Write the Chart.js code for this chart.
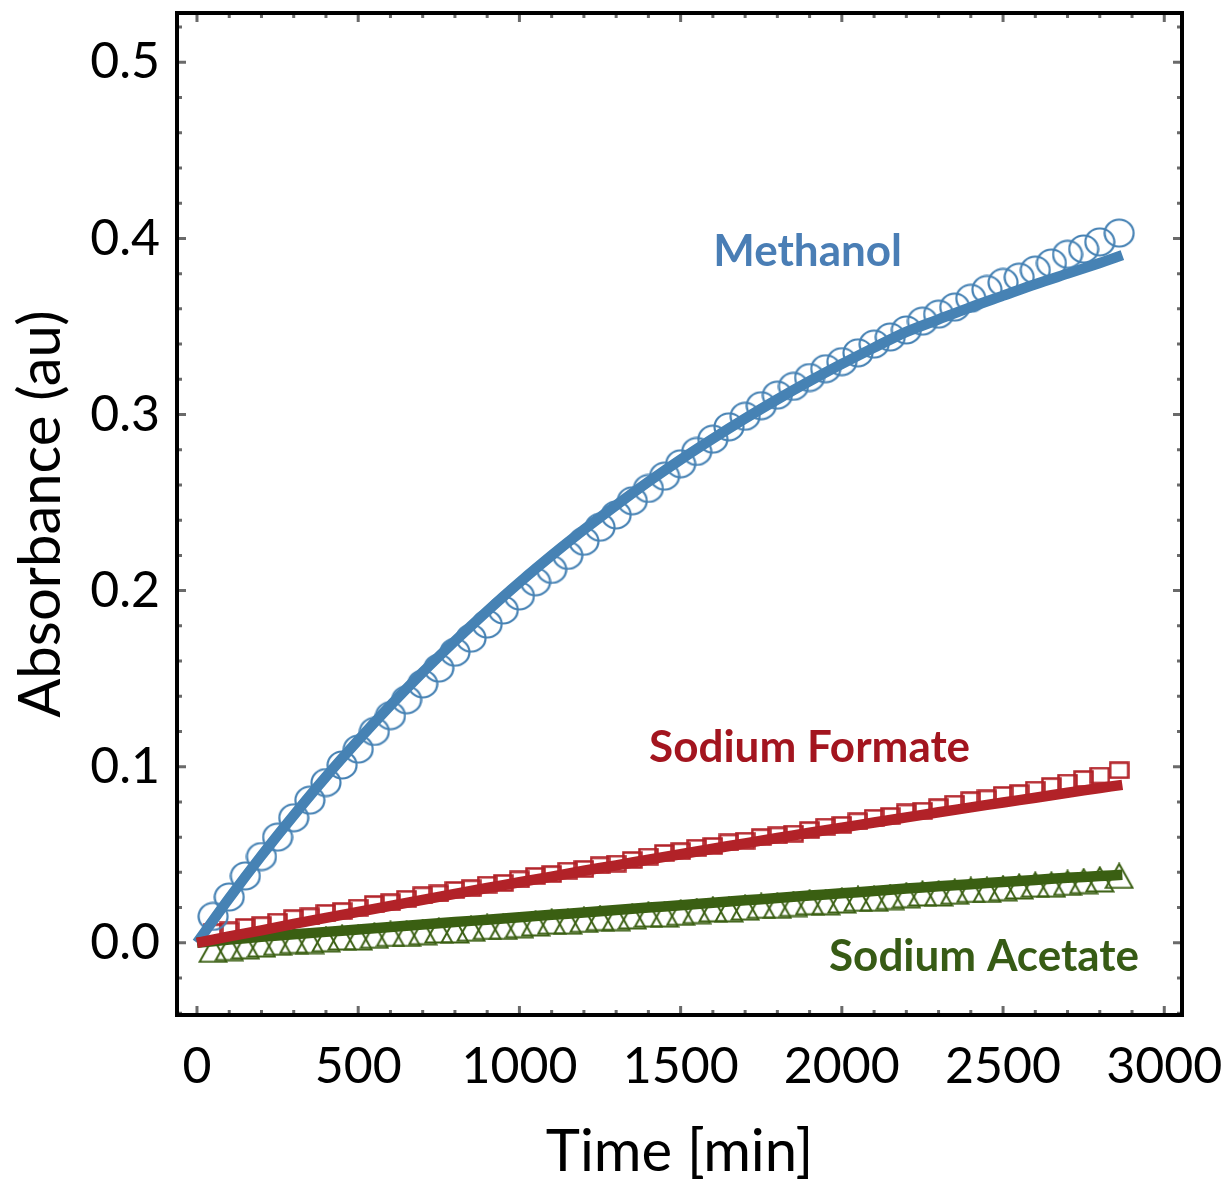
<!DOCTYPE html>
<html>
<head>
<meta charset="utf-8">
<script src="https://cdn.jsdelivr.net/npm/chart.js@4.4.0/dist/chart.umd.min.js"></script>
<style>
  html, body { margin: 0; padding: 0; background: #fff; }
  #wrap { width: 1227px; height: 1185px; }
</style>
</head>
<body>
<div id="wrap"><canvas id="chart"></canvas></div>
<script>
// measured points (min)
const times = [
  50, 100, 150, 200, 250, 300, 350, 400, 450, 500,
  550, 600, 650, 700, 750, 800, 850, 900, 950, 1000,
  1050, 1100, 1150, 1200, 1250, 1300, 1350, 1400, 1450, 1500,
  1550, 1600, 1650, 1700, 1750, 1800, 1850, 1900, 1950, 2000,
  2050, 2100, 2150, 2200, 2250, 2300, 2350, 2400, 2450, 2500,
  2550, 2600, 2650, 2700, 2750, 2800, 2860
];

const methanol = [
  0.015, 0.026, 0.038, 0.049, 0.060, 0.071, 0.081, 0.091, 0.101, 0.110,
  0.120, 0.129, 0.138, 0.147, 0.156, 0.165, 0.173, 0.181, 0.189, 0.197,
  0.205, 0.212, 0.220, 0.228, 0.236, 0.243, 0.251, 0.258, 0.265, 0.272,
  0.279, 0.286, 0.293, 0.299, 0.305, 0.311, 0.316, 0.321, 0.326, 0.330,
  0.335, 0.340, 0.344, 0.348, 0.353, 0.357, 0.361, 0.366, 0.371, 0.375,
  0.378, 0.382, 0.386, 0.391, 0.394, 0.398, 0.403
];

const formate = [
  0.006, 0.007, 0.009, 0.010, 0.012, 0.014, 0.015, 0.017, 0.018, 0.020,
  0.022, 0.023, 0.025, 0.027, 0.028, 0.030, 0.031, 0.033, 0.034, 0.036,
  0.038, 0.039, 0.041, 0.042, 0.044, 0.045, 0.047, 0.049, 0.051, 0.052,
  0.054, 0.055, 0.057, 0.058, 0.060, 0.061, 0.062, 0.064, 0.066, 0.067,
  0.069, 0.071, 0.072, 0.074, 0.075, 0.077, 0.079, 0.081, 0.082, 0.084,
  0.085, 0.087, 0.089, 0.091, 0.093, 0.095, 0.098
];

const acetate = [
  -0.004, -0.003, -0.002, -0.001, 0.000, 0.001, 0.001, 0.002, 0.003, 0.003,
  0.004, 0.005, 0.005, 0.006, 0.007, 0.007, 0.008, 0.009, 0.009, 0.010,
  0.011, 0.012, 0.012, 0.013, 0.014, 0.014, 0.015, 0.016, 0.016, 0.017,
  0.018, 0.019, 0.019, 0.020, 0.021, 0.021, 0.022, 0.023, 0.023, 0.024,
  0.025, 0.025, 0.026, 0.027, 0.028, 0.028, 0.029, 0.030, 0.030, 0.031,
  0.032, 0.033, 0.033, 0.034, 0.035, 0.036, 0.038
];

// fitted curves
const fitTimes = [
  0, 100, 200, 300, 400, 500, 600, 700, 800, 900,
  1000, 1100, 1200, 1300, 1400, 1500, 1600, 1700, 1800, 1900,
  2000, 2100, 2200, 2300, 2400, 2500, 2600, 2700, 2800, 2870
];

const methanolFit = [
  0.0000, 0.0254, 0.0495, 0.0724, 0.0943, 0.1150, 0.1348, 0.1536, 0.1714, 0.1884,
  0.2046, 0.2200, 0.2346, 0.2485, 0.2618, 0.2744, 0.2863, 0.2977, 0.3086, 0.3189,
  0.3287, 0.3380, 0.3469, 0.3540, 0.3610, 0.3675, 0.3740, 0.3800, 0.3860, 0.3905
];

const formateFit = [
  0.0000, 0.0036, 0.0071, 0.0107, 0.0142, 0.0176, 0.0210, 0.0244, 0.0278, 0.0311,
  0.0344, 0.0376, 0.0409, 0.0440, 0.0472, 0.0503, 0.0534, 0.0565, 0.0595, 0.0625,
  0.0654, 0.0683, 0.0712, 0.0741, 0.0769, 0.0797, 0.0824, 0.0852, 0.0879, 0.0897
];

const acetateFit = [
  0.0000, 0.0018, 0.0034, 0.0048, 0.0062, 0.0076, 0.0090, 0.0104, 0.0118, 0.0131,
  0.0145, 0.0159, 0.0172, 0.0186, 0.0200, 0.0213, 0.0227, 0.0241, 0.0254, 0.0268,
  0.0281, 0.0294, 0.0308, 0.0321, 0.0333, 0.0345, 0.0357, 0.0369, 0.0379, 0.0386
];

const xTicks = [0, 500, 1000, 1500, 2000, 2500, 3000];
const yTicks = [0.0, 0.1, 0.2, 0.3, 0.4, 0.5];

const BLUE = '#4682b4';
const RED = '#b22228';
const GREEN = '#3a5f12';

const labels = [
  { text: 'Methanol', x: 1894, y: 0.3926, color: '#4a7eb5' },
  { text: 'Sodium Formate', x: 1900, y: 0.111, color: '#a3151f' },
  { text: 'Sodium Acetate', x: 2441, y: -0.008, color: '#375b15' }
];

const FONT = 'Lato, "Open Sans", sans-serif';

function toPoints(xs, ys) {
  return xs.map((x, i) => ({ x: x, y: ys[i] }));
}

// hollow markers drawn once and reused as point images
function marker(w, h, draw) {
  const c = document.createElement('canvas');
  c.width = w;
  c.height = h;
  draw(c.getContext('2d'));
  return c;
}

const circleMark = marker(32, 30, g => {
  g.strokeStyle = BLUE;
  g.lineWidth = 2.2;
  g.beginPath();
  g.ellipse(16, 15, 14.5, 13.5, 0, 0, Math.PI * 2);
  g.stroke();
});

const squareMark = marker(21, 18, g => {
  g.strokeStyle = RED;
  g.lineWidth = 2.5;
  g.strokeRect(1.5, 1.5, 18, 15);
});

const triangleMark = marker(30, 27, g => {
  g.strokeStyle = GREEN;
  g.lineWidth = 2;
  g.beginPath();
  g.moveTo(15, 1.5);
  g.lineTo(28.5, 25.5);
  g.lineTo(1.5, 25.5);
  g.closePath();
  g.stroke();
});

function markers(data, style) {
  return {
    data: data,
    showLine: false,
    pointStyle: style,
    pointRadius: 12,
    order: 2
  };
}

function fit(data, color, order) {
  return {
    data: data,
    showLine: true,
    borderColor: color,
    borderWidth: 10.5,
    borderCapStyle: 'butt',
    pointRadius: 0,
    tension: 0.3,
    fill: false,
    order: order
  };
}

// frame with inward major/minor ticks on all four sides
const framePlugin = {
  id: 'frame',
  afterDraw(chart) {
    const ctx = chart.ctx;
    const { left, right, top, bottom } = chart.chartArea;
    const xs = chart.scales.x;
    const ys = chart.scales.y;
    ctx.save();
    ctx.strokeStyle = '#6a6a6a';
    ctx.lineWidth = 3;
    ctx.beginPath();
    for (let v = 0; v <= xs.max; v += 100) {
      const px = xs.getPixelForValue(v);
      const len = v % 500 === 0 ? 9 : 5;
      ctx.moveTo(px, bottom); ctx.lineTo(px, bottom - len);
      ctx.moveTo(px, top); ctx.lineTo(px, top + len);
    }
    for (let k = -2; k <= 26; k++) {
      const v = k * 0.02;
      if (v < ys.min || v > ys.max) continue;
      const py = ys.getPixelForValue(v);
      const len = k % 5 === 0 ? 9 : 5;
      ctx.moveTo(left, py); ctx.lineTo(left + len, py);
      ctx.moveTo(right, py); ctx.lineTo(right - len, py);
    }
    ctx.stroke();
    ctx.strokeStyle = '#000';
    ctx.lineWidth = 4;
    ctx.strokeRect(left, top, right - left, bottom - top);
    ctx.restore();
  }
};

const labelPlugin = {
  id: 'seriesLabels',
  afterDatasetsDraw(chart) {
    const ctx = chart.ctx;
    ctx.save();
    ctx.font = 'bold 44px ' + FONT;
    ctx.textAlign = 'center';
    ctx.textBaseline = 'middle';
    labels.forEach(l => {
      ctx.fillStyle = l.color;
      ctx.fillText(l.text, chart.scales.x.getPixelForValue(l.x), chart.scales.y.getPixelForValue(l.y));
    });
    ctx.restore();
  }
};

new Chart(document.getElementById('chart'), {
  type: 'scatter',
  data: {
    datasets: [
      fit(toPoints(fitTimes, formateFit), RED, 0),
      fit(toPoints(fitTimes, acetateFit), GREEN, 1),
      fit(toPoints(fitTimes, methanolFit), BLUE, 1),
      markers(toPoints(times, methanol), circleMark),
      markers(toPoints(times, formate), squareMark),
      markers(toPoints(times, acetate), triangleMark)
    ]
  },
  options: {
    responsive: true,
    maintainAspectRatio: false,
    animation: false,
    layout: { padding: { top: 13, right: 45, left: 0, bottom: 0 } },
    plugins: {
      legend: { display: false },
      tooltip: { enabled: false }
    },
    scales: {
      x: {
        type: 'linear',
        min: -62,
        max: 3055,
        grid: { display: false },
        border: { display: false },
        afterFit: s => {
          s.height = 170;
          s.paddingLeft = 0;
          s.paddingRight = 0;
        },
        afterBuildTicks: s => { s.ticks = xTicks.map(v => ({ value: v })); },
        ticks: {
          autoSkip: false,
          maxRotation: 0,
          padding: 14,
          color: '#000',
          font: { family: FONT, size: 50 },
          callback: v => String(v)
        },
        title: {
          display: true,
          text: 'Time [min]',
          color: '#000',
          font: { family: FONT, size: 58, lineHeight: 1.12 },
          padding: { top: 0, bottom: 0 }
        }
      },
      y: {
        min: -0.041,
        max: 0.528,
        grid: { display: false },
        border: { display: false },
        afterFit: s => {
          s.width = 177;
          s.paddingTop = 0;
          s.paddingBottom = 0;
        },
        afterBuildTicks: s => { s.ticks = yTicks.map(v => ({ value: v })); },
        ticks: {
          padding: 9,
          color: '#000',
          font: { family: FONT, size: 50 },
          callback: v => v.toFixed(1)
        },
        title: {
          display: true,
          text: 'Absorbance (au)',
          color: '#000',
          font: { family: FONT, size: 58 },
          padding: { top: 6, bottom: 0 }
        }
      }
    }
  },
  plugins: [labelPlugin, framePlugin]
});
</script>
</body>
</html>
